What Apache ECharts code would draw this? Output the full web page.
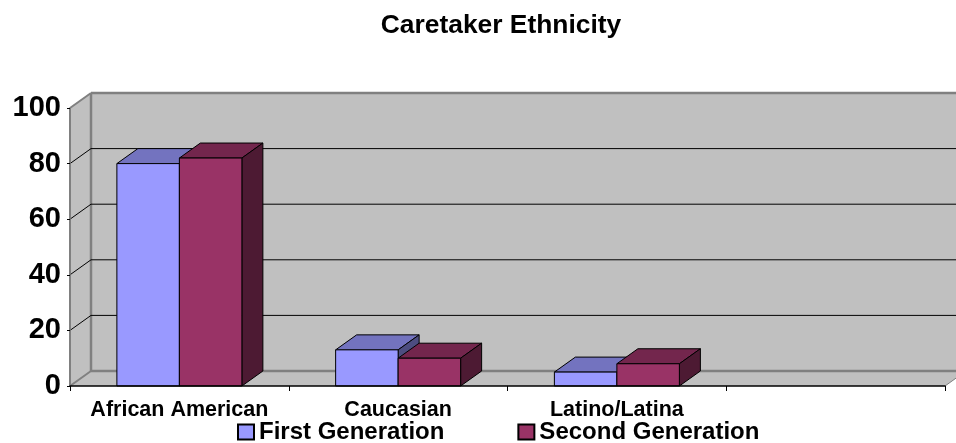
<!DOCTYPE html>
<html><head><meta charset="utf-8">
<style>html,body{margin:0;padding:0;background:#fff}#c{width:956px;height:443px}</style>
<script src="https://cdn.jsdelivr.net/npm/echarts@6/dist/echarts.min.js"></script>
</head><body><div id="c"></div>
<script>
const titleText = 'Caretaker Ethnicity';
const categories = ['African American', 'Caucasian', 'Latino/Latina', ''];
const firstGeneration = [80, 13, 5];
const secondGeneration = [82, 10, 8];
const valueTicks = [0, 20, 40, 60, 80, 100];

const font = '"Liberation Sans", Arial, sans-serif';
const DX = 21, DY = -15;
const chart = echarts.init(document.getElementById('c'), null, {renderer: 'canvas'});

function poly(points, fill, stroke, lw) {
  return {type: 'polygon', shape: {points}, style: {fill, stroke, lineWidth: lw}};
}
function line(a, b, stroke, lw) {
  return {type: 'line', shape: {x1: a[0], y1: a[1], x2: b[0], y2: b[1]}, style: {stroke, lineWidth: lw, fill: null}};
}
function renderWall(params, api) {
  const tick = api.value(1);
  const left = api.coord([0, tick]);
  const x0 = left[0] - api.size([1, 0])[0] / 2;
  const x1 = x0 + api.size([1, 0])[0] * categories.length;
  const y = left[1];
  const children = [];
  if (tick === valueTicks[0]) {
    const top = api.coord([0, valueTicks[valueTicks.length - 1]])[1];
    children.push(poly([[x0 + DX, top + DY], [x1 + DX, top + DY], [x1 + DX, y + DY], [x0 + DX, y + DY]], '#C0C0C0', null, 0));
    children.push(poly([[x0, top], [x0 + DX, top + DY], [x0 + DX, y + DY], [x0, y]], '#C0C0C0', null, 0));
    children.push(poly([[x0, y], [x0 + DX, y + DY], [x1 + DX, y + DY], [x1, y]], '#C0C0C0', null, 0));
    children.push(line([x0, top], [x0, y], '#808080', 2));
    children.push(line([x0 + DX, top + DY], [x0 + DX, y + DY], '#808080', 2.5));
    children.push(line([x1, y], [x1 + DX, y + DY], '#808080', 1));
  }
  const edge = tick === valueTicks[0] || tick === valueTicks[valueTicks.length - 1];
  const col = edge ? '#808080' : '#000000';
  const lw = edge ? 2.5 : 1;
  children.push(line([x0, y], [x0 + DX, y + DY], col, edge ? 2 : 1));
  children.push(line([x0 + DX, y + DY], [x1 + DX, y + DY], col, lw));
  return {type: 'group', children};
}
function makeBar(offsetIndex, front, top, side) {
  return function (params, api) {
    const cat = api.value(0);
    const base = api.coord([cat, 0]);
    const head = api.coord([cat, api.value(1)]);
    const band = api.size([1, 0])[0];
    const w = band / 3.5;
    const xa = base[0] - w + offsetIndex * w;
    const xb = xa + w;
    const ya = head[1], yb = base[1];
    const st = '#000000';
    return {type: 'group', children: [
      poly([[xa, ya], [xa + DX, ya + DY], [xb + DX, ya + DY], [xb, ya]], top, st, 1),
      poly([[xb, ya], [xb + DX, ya + DY], [xb + DX, yb + DY], [xb, yb]], side, st, 1),
      poly([[xa, ya], [xb, ya], [xb, yb], [xa, yb]], front, st, 1)
    ]};
  };
}
chart.setOption({
  animation: false,
  backgroundColor: '#ffffff',
  title: {text: titleText, left: 496, top: 8, textAlign: 'center',
    textStyle: {fontFamily: font, fontSize: 26.4, fontWeight: 'bold', color: '#000'}},
  legend: {left: 237, top: 420, itemWidth: 16, itemHeight: 15, itemGap: 73, padding: 0,
    icon: 'rect', selectedMode: false,
    data: ['First Generation', 'Second Generation'],
    textStyle: {fontFamily: font, fontSize: 24, fontWeight: 'bold', color: '#000'}},
  grid: {left: 70, right: 11, top: 108, bottom: 57, containLabel: false},
  xAxis: {type: 'category', data: categories, z: 10, boundaryGap: true,
    axisLine: {show: true, lineStyle: {color: '#000', width: 1.5}},
    axisTick: {show: true, length: 5, lineStyle: {color: '#000', width: 1}},
    axisLabel: {fontFamily: font, fontSize: 21.5, fontWeight: 'bold', color: '#000', margin: 13, interval: 0, hideOverlap: false},
    splitLine: {show: false}},
  yAxis: {type: 'value', min: 0, max: 100, interval: 20, z: 10,
    axisLine: {show: true, lineStyle: {color: '#808080', width: 1.5}},
    axisTick: {show: true, length: 3, lineStyle: {color: '#000', width: 1}},
    axisLabel: {fontFamily: font, fontSize: 29, fontWeight: 'bold', color: '#000', margin: 9},
    splitLine: {show: false}},
  series: [
    {type: 'custom', name: 'wall', silent: true, clip: false, z: 1, legendHoverLink: false,
      renderItem: renderWall, encode: {x: 0, y: 1},
      data: valueTicks.map(t => [0, t])},
    {type: 'custom', name: 'First Generation', silent: true, clip: false, z: 2,
      itemStyle: {color: '#9999FF', borderColor: '#000', borderWidth: 1},
      renderItem: makeBar(0, '#9999FF', '#7373BF', '#4D4D80'), encode: {x: 0, y: 1},
      data: firstGeneration.map((v, i) => [i, v])},
    {type: 'custom', name: 'Second Generation', silent: true, clip: false, z: 3,
      itemStyle: {color: '#993366', borderColor: '#000', borderWidth: 1},
      renderItem: makeBar(1, '#993366', '#73264D', '#4D1A33'), encode: {x: 0, y: 1},
      data: secondGeneration.map((v, i) => [i, v])}
  ]
});
</script></body></html>
